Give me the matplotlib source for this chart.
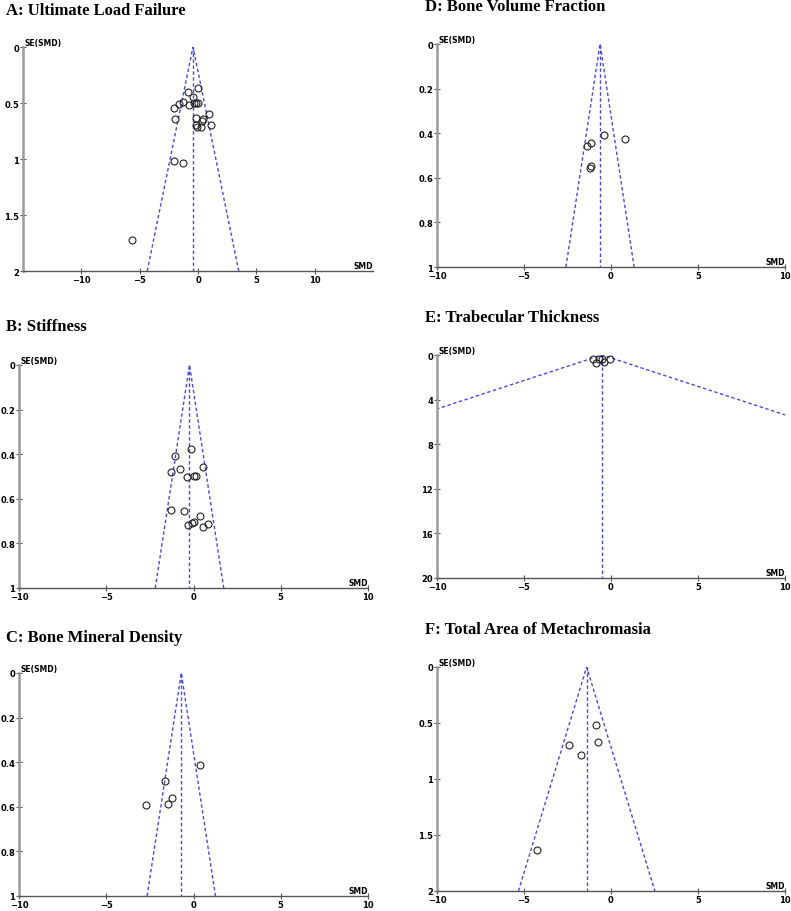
import numpy as np
import matplotlib
matplotlib.use("Agg")
import matplotlib.pyplot as plt
from matplotlib.ticker import FormatStrFormatter

# values (SMD, SE(SMD)) and pooled estimates
titles = ["A: Ultimate Load Failure", "B: Stiffness", "C: Bone Mineral Density",
          "D: Bone Volume Fraction", "E: Trabecular Thickness",
          "F: Total Area of Metachromasia"]

smd_A = [-0.86, 0.0, -0.46, -1.32, -1.61, -2.10, -0.80, -0.37, -0.20, -0.03,
         -2.01, -0.14, 0.92, 0.43, 0.32, 1.12, -0.17, -0.06, 0.23, -2.10, -1.32, -5.63]
se_A = [0.40, 0.37, 0.45, 0.49, 0.51, 0.545, 0.52, 0.50, 0.50, 0.50,
        0.64, 0.63, 0.60, 0.64, 0.66, 0.70, 0.70, 0.71, 0.71, 1.02, 1.04, 1.72]

smd_B = [-0.15, -1.04, 0.57, -1.31, -0.76, -0.38, 0.0, 0.15,
         -1.29, -0.57, 0.36, -0.32, -0.09, 0.0, 0.55, 0.85]
se_B = [0.377, 0.407, 0.456, 0.478, 0.466, 0.504, 0.498, 0.498,
        0.648, 0.654, 0.677, 0.717, 0.708, 0.705, 0.726, 0.714]

smd_C = [0.36, -1.62, -1.22, -1.48, -2.72]
se_C = [0.412, 0.485, 0.561, 0.588, 0.594]

smd_D = [-0.42, 0.78, -1.38, -1.15, -1.15, -1.23]
se_D = [0.41, 0.428, 0.457, 0.445, 0.546, 0.557]

smd_E = [-1.01, -0.86, -0.71, -0.54, -0.38, -0.04]
se_E = [0.36, 0.69, 0.39, 0.33, 0.60, 0.36]

smd_F = [-0.86, -0.75, -2.43, -1.72, -4.27]
se_F = [0.52, 0.666, 0.693, 0.788, 1.633]

pooled = [-0.43, -0.23, -0.70, -0.63, -0.52, -1.40]
se_max = [2, 1, 1, 1, 20, 2]
x_lims = [(-15, 15), (-10, 10), (-10, 10), (-10, 10), (-10, 10), (-10, 10)]
y_ticks = [[0, 0.5, 1, 1.5, 2], [0, 0.2, 0.4, 0.6, 0.8, 1], [0, 0.2, 0.4, 0.6, 0.8, 1],
           [0, 0.2, 0.4, 0.6, 0.8, 1], [0, 4, 8, 12, 16, 20], [0, 0.5, 1, 1.5, 2]]
x_ticks = [-10, -5, 0, 5, 10]

smd_all = [smd_A, smd_B, smd_C, smd_D, smd_E, smd_F]
se_all = [se_A, se_B, se_C, se_D, se_E, se_F]

W, H = 791, 912
fig = plt.figure(figsize=(W / 100, H / 100), dpi=100)

# axes boxes in pixels: left, right, top, bottom
boxes = [(23, 373, 48, 272), (19, 368, 366, 589), (19, 368, 674, 897),
         (437, 785, 45, 268), (437, 785, 356, 579), (437, 785, 668, 892)]
title_pos = [(6, 11), (6, 327), (6, 638), (425, 7), (425, 318), (425, 630)]

blue = "#4a4ae0"

for i in range(6):
    l, r, t, b = boxes[i]
    ax = fig.add_axes([l / W, (H - b) / H, (r - l) / W, (b - t) / H])
    m = se_max[i]
    c = pooled[i]

    ax.plot([c - 1.96 * m, c, c + 1.96 * m], [m, 0, m], ls=(0, (2.5, 1.8)), color=blue, lw=1)
    ax.plot([c, c], [0, m], ls=(0, (2.5, 1.8)), color=blue, lw=1)
    ax.plot(smd_all[i], se_all[i], "o", mfc="none", mec="#222222", ms=5, mew=0.8)

    ax.set_xlim(*x_lims[i])
    ax.set_ylim(m, 0)
    ax.set_xticks(x_ticks)
    ax.set_yticks(y_ticks[i])
    ax.yaxis.set_major_formatter(FormatStrFormatter("%g"))

    for s in ["top", "right"]:
        ax.spines[s].set_visible(False)
    ax.spines["left"].set_color("#9a9a9a")
    ax.spines["left"].set_linewidth(1.8)
    ax.spines["bottom"].set_color("#555555")
    ax.spines["bottom"].set_linewidth(1.0)
    ax.tick_params(axis="both", direction="inout", length=4, width=0.8,
                   color="#555555", labelsize=6, pad=0.8)
    for lab in ax.get_xticklabels() + ax.get_yticklabels():
        lab.set_fontweight("bold")

    ax.text(0.005, 1.0, "SE(SMD)", transform=ax.transAxes, fontsize=5.5,
            fontweight="bold", ha="left", va="bottom")
    ax.text(1.0, 0.005, "SMD", transform=ax.transAxes, fontsize=5.5,
            fontweight="bold", ha="right", va="bottom")

    tx, ty = title_pos[i]
    fig.text(tx / W, 1 - ty / H, titles[i], family="Liberation Serif",
             fontweight="bold", fontsize=12, ha="left", va="center")

fig.savefig("out.png", dpi=100)
